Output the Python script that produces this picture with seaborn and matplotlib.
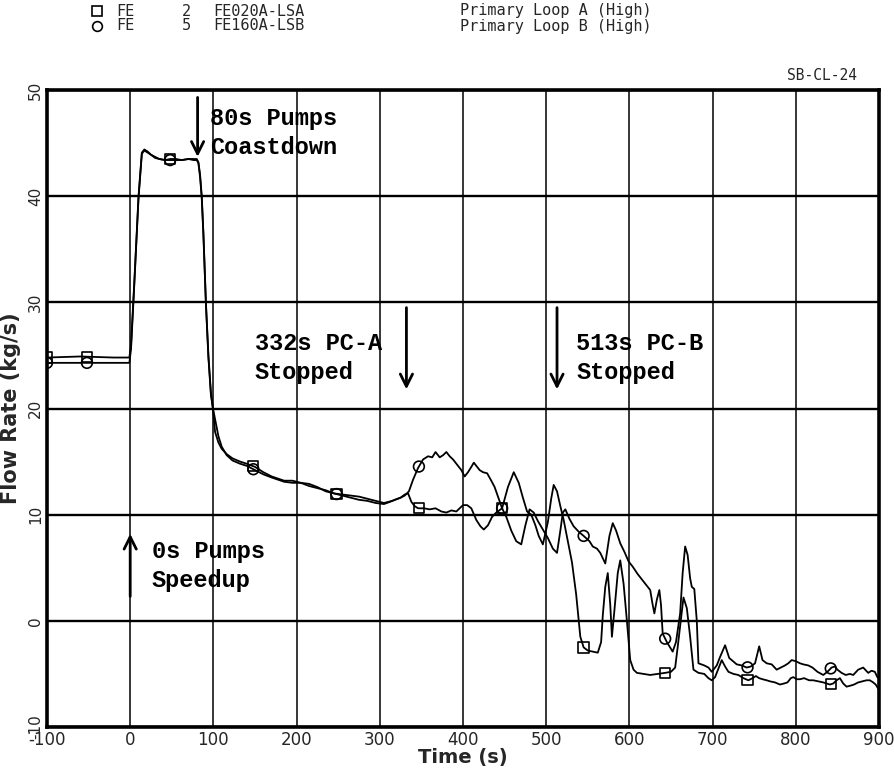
import numpy as np
import pandas as pd
import matplotlib
matplotlib.use("Agg")
import matplotlib.pyplot as plt
import matplotlib.lines as mlines
import seaborn as sns

# Loop A (FE020A-LSA), (time s, flow kg/s)
loop_a = [
    (-100, 24.8), (-60, 24.9), (-20, 24.8), (-1, 24.8), (1, 26.0), (5, 32.0), (10, 40.0),
    (14, 44.1), (17, 44.4), (21, 44.2), (25, 43.9), (30, 43.7), (35, 43.5), (42, 43.4),
    (48, 43.5), (55, 43.5), (62, 43.4), (70, 43.5), (76, 43.5), (80, 43.5), (82, 43.2),
    (84, 42.0), (86, 40.0), (88, 36.5), (91, 30.0), (94, 25.0), (97, 21.5), (100, 19.5),
    (102, 17.8), (106, 16.8), (110, 16.2), (116, 15.7), (123, 15.3), (132, 15.0), (140, 14.8),
    (150, 14.5), (160, 14.0), (170, 13.6), (185, 13.2), (195, 13.2), (205, 13.0), (215, 12.7),
    (225, 12.5), (235, 12.3), (245, 12.0), (255, 11.9), (265, 11.8), (275, 11.7), (285, 11.5),
    (295, 11.3), (305, 11.1), (315, 11.3), (325, 11.6), (330, 11.9), (334, 12.0), (338, 11.2),
    (342, 10.8), (346, 10.6), (353, 10.6), (360, 10.5), (367, 10.6), (374, 10.3), (380, 10.2),
    (386, 10.4), (392, 10.3), (400, 10.9), (405, 10.9), (410, 10.6), (416, 9.5), (421, 8.9),
    (425, 8.6), (430, 9.0), (435, 9.8), (440, 10.2), (447, 10.6), (454, 12.6), (461, 14.0),
    (467, 13.0), (472, 11.6), (477, 10.3), (482, 10.0), (487, 9.0), (491, 8.0), (496, 7.2),
    (502, 9.3), (506, 11.5), (509, 12.8), (513, 12.2), (517, 10.8), (521, 9.5), (526, 7.5),
    (531, 5.5), (536, 2.5), (541, -1.5), (545, -2.5), (550, -2.8), (556, -2.9), (562, -3.0),
    (566, -2.0), (568, 0.5), (571, 3.2), (574, 4.5), (577, 1.5), (579, -1.5), (582, 1.0),
    (586, 4.5), (589, 5.7), (593, 3.5), (597, 0.0), (601, -3.7), (605, -4.6), (609, -4.9),
    (617, -5.0), (625, -5.1), (634, -5.0), (643, -4.9), (650, -4.8), (655, -4.4), (658, -2.5),
    (661, -0.5), (665, 2.2), (669, 1.2), (673, -1.5), (677, -4.6), (683, -4.9), (690, -5.0),
    (695, -5.4), (699, -5.6), (703, -5.3), (707, -4.5), (711, -3.7), (715, -4.3), (719, -4.8),
    (725, -5.0), (731, -5.1), (737, -5.4), (743, -5.6), (748, -5.4), (752, -5.2), (756, -5.4),
    (760, -5.5), (765, -5.6), (769, -5.7), (775, -5.8), (781, -6.0), (786, -5.9), (790, -5.8),
    (794, -5.4), (797, -5.3), (801, -5.5), (805, -5.5), (810, -5.4), (816, -5.6), (821, -5.6),
    (827, -5.7), (833, -5.8), (837, -5.9), (841, -6.0), (845, -5.9), (849, -5.6), (853, -5.4),
    (857, -5.9), (861, -6.2), (866, -6.1), (870, -6.0), (875, -5.8), (880, -5.7), (885, -5.6),
    (889, -5.6), (893, -5.8), (896, -6.0), (900, -6.5),
]

# Loop B (FE160A-LSB)
loop_b = [
    (-100, 24.3), (-60, 24.3), (-20, 24.3), (-1, 24.3), (1, 25.6), (5, 31.8), (10, 39.8),
    (14, 44.0), (17, 44.3), (21, 44.1), (25, 43.9), (30, 43.6), (35, 43.5), (42, 43.4),
    (48, 43.4), (55, 43.4), (62, 43.4), (70, 43.5), (76, 43.4), (80, 43.4), (82, 43.1),
    (84, 41.8), (86, 39.8), (88, 36.3), (91, 29.8), (94, 24.8), (97, 21.3), (100, 19.8),
    (103, 18.6), (106, 17.4), (110, 16.4), (116, 15.6), (123, 15.1), (132, 14.8), (140, 14.6),
    (150, 14.2), (160, 13.8), (170, 13.5), (185, 13.1), (195, 13.0), (205, 13.0), (215, 12.9),
    (225, 12.6), (235, 12.2), (245, 12.0), (255, 11.8), (265, 11.6), (275, 11.4), (285, 11.3),
    (295, 11.1), (305, 11.0), (312, 11.2), (318, 11.4), (325, 11.6), (330, 11.8), (335, 12.2),
    (340, 13.3), (346, 14.4), (352, 15.2), (358, 15.5), (363, 15.4), (367, 15.9), (372, 15.4),
    (376, 15.6), (380, 15.9), (384, 15.5), (388, 15.2), (393, 14.7), (398, 14.2), (402, 13.6),
    (406, 14.0), (410, 14.5), (413, 14.9), (417, 14.5), (420, 14.2), (424, 14.0), (429, 13.9),
    (434, 13.2), (438, 12.6), (443, 11.5), (447, 10.6), (452, 9.8), (458, 8.5), (464, 7.5),
    (470, 7.2), (475, 9.0), (480, 10.5), (485, 10.2), (490, 9.4), (496, 8.6), (502, 7.8),
    (508, 6.8), (513, 6.4), (517, 8.5), (520, 10.2), (523, 10.5), (528, 9.6), (533, 8.9),
    (539, 8.4), (545, 8.0), (552, 7.5), (556, 7.0), (561, 6.8), (565, 6.4), (571, 5.4),
    (576, 8.0), (580, 9.2), (584, 8.5), (589, 7.3), (594, 6.5), (599, 5.6), (604, 5.1),
    (610, 4.4), (615, 3.9), (620, 3.4), (625, 2.9), (628, 1.5), (630, 0.7), (633, 2.0),
    (636, 2.9), (638, 1.5), (640, -1.2), (645, -2.0), (652, -2.9), (656, -2.0), (661, 0.7),
    (664, 4.5), (667, 7.0), (670, 6.2), (673, 4.0), (675, 3.2), (678, 3.0), (681, 0.0),
    (683, -4.0), (690, -4.2), (695, -4.4), (699, -4.8), (705, -4.2), (709, -3.4), (715, -2.3),
    (720, -3.5), (729, -4.1), (735, -4.2), (741, -4.4), (746, -4.3), (751, -4.0), (756, -2.4),
    (760, -3.7), (765, -4.0), (771, -4.1), (777, -4.6), (782, -4.4), (787, -4.2), (791, -4.0),
    (795, -3.7), (800, -3.8), (805, -4.0), (809, -4.1), (815, -4.2), (820, -4.4), (826, -4.8),
    (833, -5.1), (838, -4.8), (843, -4.4), (847, -4.3), (850, -4.6), (855, -4.9), (860, -5.1),
    (865, -5.0), (869, -5.1), (875, -4.6), (881, -4.4), (887, -4.9), (891, -4.7), (895, -4.8),
    (898, -5.3), (900, -5.4),
]

marker_times = [-100, -52, 48, 148, 248, 347, 447, 545, 643, 742, 842]

x_ticks = list(range(-100, 901, 100))
y_ticks = list(range(-10, 51, 10))

# events: (time, label, arrow from y, arrow to y, text x, text top y)
events = [
    (81, "80s Pumps\nCoastdown", 49.3, 43.7, 96, 48.4),
    (0, "0s Pumps\nSpeedup", 2.3, 8.2, 26, 7.6),
    (332, "332s PC-A\nStopped", 29.5, 21.8, 150, 27.2),
    (513, "513s PC-B\nStopped", 29.5, 21.8, 536, 27.2),
]

df_a = pd.DataFrame(loop_a, columns=["t", "flow"])
df_b = pd.DataFrame(loop_b, columns=["t", "flow"])

sns.set_style("white")
plt.rcParams["font.family"] = ["DejaVu Sans"]

fig = plt.figure(figsize=(8.95, 7.68), dpi=100)
ax = fig.add_axes([47 / 895, 1 - 727 / 768, (879 - 47) / 895, (727 - 90) / 768])

sns.lineplot(data=df_a, x="t", y="flow", ax=ax, color="black", lw=1.3, sort=False, estimator=None)
sns.lineplot(data=df_b, x="t", y="flow", ax=ax, color="black", lw=1.3, sort=False, estimator=None)

mk_a = pd.DataFrame({"t": marker_times, "flow": np.interp(marker_times, df_a.t, df_a.flow)})
mk_b = pd.DataFrame({"t": marker_times, "flow": np.interp(marker_times, df_b.t, df_b.flow)})
sns.scatterplot(data=mk_a, x="t", y="flow", ax=ax, marker="s", s=55,
                facecolor="none", edgecolor="black", linewidth=1.2, zorder=5)
sns.scatterplot(data=mk_b, x="t", y="flow", ax=ax, marker="o", s=60,
                facecolor="none", edgecolor="black", linewidth=1.2, zorder=5)

ax.set_xlim(-100, 900)
ax.set_ylim(-10, 50)
ax.set_xticks(x_ticks)
ax.set_yticks(y_ticks)
ax.set_xticklabels([str(v) for v in x_ticks], fontsize=12)
ax.set_yticklabels([str(v) for v in y_ticks], fontsize=11, rotation=90, va="center")
ax.xaxis.grid(True, color="black", lw=1.1)
ax.yaxis.grid(True, color="black", lw=1.7)
ax.tick_params(direction="in", length=5, width=2, pad=3, color="black")
for sp in ax.spines.values():
    sp.set_linewidth(2.6)
    sp.set_color("black")

ax.set_xlabel("")
ax.set_ylabel("Flow Rate (kg/s)", fontsize=15, fontweight="bold", labelpad=5)
fig.text(463 / 895, 1 - 757 / 768, "Time (s)", fontsize=14, fontweight="bold",
         ha="center", va="center")

for t, label, y0, y1, tx, ty in events:
    ax.annotate("", xy=(t, y1), xytext=(t, y0),
                arrowprops=dict(arrowstyle="->", color="black", lw=2,
                                mutation_scale=22, shrinkA=0, shrinkB=0))
    ax.text(tx, ty, label, fontsize=17, family="Liberation Mono", fontweight="bold",
            va="top", ha="left", linespacing=1.35, color="black")

# header legend
mono = "DejaVu Sans Mono"
rows = [("s", "FE", "2", "FE020A-LSA", "Primary Loop A (High)", 1 - 11 / 768),
        ("o", "FE", "5", "FE160A-LSB", "Primary Loop B (High)", 1 - 26 / 768)]
for mk, a, b, c, d, yy in rows:
    fig.add_artist(mlines.Line2D([97 / 895], [yy], marker=mk, ms=7, mfc="none",
                                 mec="black", mew=1.2, transform=fig.transFigure))
    fig.text(116 / 895, yy, a, fontsize=11, family=mono, va="center")
    fig.text(182 / 895, yy, b, fontsize=11, family=mono, va="center")
    fig.text(213 / 895, yy, c, fontsize=11, family=mono, va="center")
    fig.text(460 / 895, yy, d, fontsize=11, family=mono, va="center")

fig.text(857 / 895, 1 - 75 / 768, "SB-CL-24", fontsize=10.5, family=mono,
         ha="right", va="center")

fig.savefig("out.png", dpi=100)
